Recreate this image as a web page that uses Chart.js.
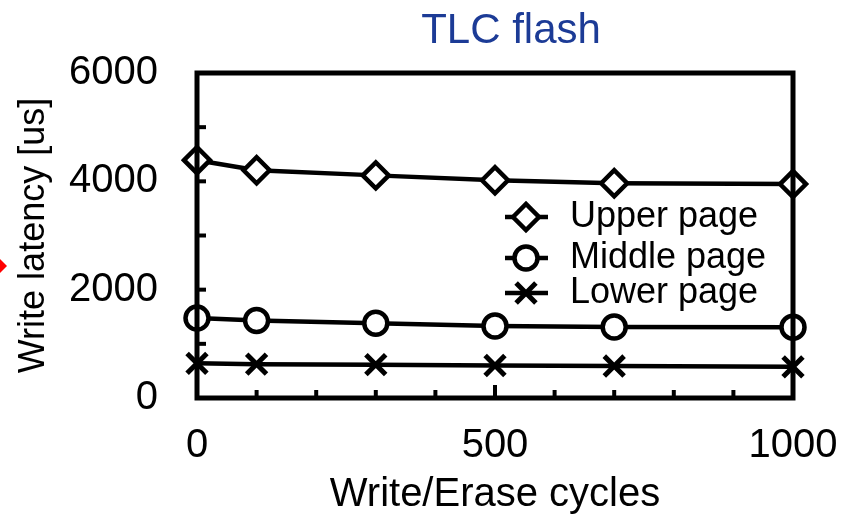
<!DOCTYPE html>
<html>
<head>
<meta charset="utf-8">
<script src="https://cdn.jsdelivr.net/npm/chart.js@4"></script>
<style>
  html, body { margin: 0; padding: 0; background: #fff; }
  #wrap { width: 853px; height: 519px; position: relative; }
</style>
</head>
<body>
<div id="wrap"><canvas id="c" width="853" height="519"></canvas></div>
<script>
const cycles = [0, 100, 300, 500, 700, 1000];
const upperPage = [4390, 4205, 4110, 4020, 3965, 3950];
const middlePage = [1475, 1430, 1380, 1330, 1310, 1305];
const lowerPage = [640, 625, 615, 600, 590, 575];
const seriesNames = ['Upper page', 'Middle page', 'Lower page'];
const yTickLabels = [0, 2000, 4000, 6000];
const xTickLabels = [0, 500, 1000];
const chartTitle = 'TLC flash';

const FONT = "'Liberation Sans', Arial, sans-serif";

function pts(vals) { return cycles.map((c, i) => ({ x: c, y: vals[i] })); }

const frameAndLegend = {
  id: 'frameAndLegend',
  afterDatasetsDraw(chart) {
    const ctx = chart.ctx, a = chart.chartArea;
    const xs = chart.scales.x, ys = chart.scales.y;
    ctx.save();
    // title
    ctx.fillStyle = '#1c3b96';
    ctx.font = '42px ' + FONT;
    ctx.textAlign = 'center';
    ctx.textBaseline = 'middle';
    ctx.fillText(chartTitle, 511, 31);
    // frame
    ctx.strokeStyle = '#000';
    ctx.lineWidth = 5;
    ctx.lineCap = 'square';
    ctx.strokeRect(a.left, a.top, a.right - a.left, a.bottom - a.top);
    ctx.lineWidth = 4;
    ctx.lineCap = 'butt';
    for (let v = 1000; v < 6000; v += 1000) {
      const y = ys.getPixelForValue(v);
      ctx.beginPath(); ctx.moveTo(a.left, y); ctx.lineTo(a.left + 9, y); ctx.stroke();
    }
    for (let v = 100; v < 1000; v += 100) {
      const x = xs.getPixelForValue(v);
      const len = (v === 500) ? 13 : 8;
      ctx.beginPath(); ctx.moveTo(x, a.bottom); ctx.lineTo(x, a.bottom - len); ctx.stroke();
    }
    // legend
    const rows = [217, 258, 293];
    chart.data.datasets.forEach((ds, i) => {
      const y = rows[i];
      ctx.lineWidth = 4.5;
      ctx.strokeStyle = '#000';
      ctx.beginPath(); ctx.moveTo(505, y); ctx.lineTo(548, y); ctx.stroke();
      ctx.fillStyle = '#fff';
      ctx.strokeStyle = '#000';
      ctx.lineWidth = ds.pointBorderWidth;
      Chart.helpers.drawPoint(ctx, { pointStyle: ds.pointStyle, radius: ds.pointRadius, borderWidth: ds.pointBorderWidth, rotation: 0 }, 526, y);
      ctx.fillStyle = '#000';
      ctx.font = '36px ' + FONT;
      ctx.textBaseline = 'middle';
      ctx.textAlign = 'left';
      ctx.fillText(ds.label, 570, y);
    });
    // red marker fragment at the left edge
    ctx.fillStyle = '#ff0000';
    ctx.beginPath();
    ctx.moveTo(-3, 256); ctx.lineTo(7, 266); ctx.lineTo(-3, 276); ctx.closePath();
    ctx.fill();
    ctx.restore();
  }
};

function mk(label, vals, style, r, bw) {
  return {
    label, data: pts(vals),
    borderColor: '#000', borderWidth: 4.5,
    pointStyle: style, pointRadius: r, pointHoverRadius: r,
    pointBackgroundColor: '#fff', pointBorderColor: '#000', pointBorderWidth: bw,
    tension: 0, clip: false
  };
}

const plain = v => String(v);

new Chart(document.getElementById('c'), {
  type: 'line',
  data: {
    datasets: [
      mk(seriesNames[0], upperPage, 'rectRot', 13, 4.5),
      mk(seriesNames[1], middlePage, 'circle', 11.5, 4.5),
      mk(seriesNames[2], lowerPage, 'crossRot', 14, 5)
    ]
  },
  options: {
    responsive: false,
    animation: false,
    layout: { padding: { left: 0, right: 60, top: 73, bottom: 0 } },
    plugins: {
      legend: { display: false },
      tooltip: { enabled: false },
      title: { display: false }
    },
    scales: {
      x: {
        type: 'linear', min: 0, max: 1000,
        afterBuildTicks(s) { s.ticks = xTickLabels.map(v => ({ value: v })); },
        afterFit(s) { s.height = 121; s.paddingRight = 0; s.paddingLeft = 0; },
        grid: { display: false, drawTicks: false },
        border: { display: false },
        ticks: { color: '#000', font: { family: FONT, size: 40 }, padding: 24, maxRotation: 0, callback: plain },
        title: { display: true, text: 'Write/Erase cycles', color: '#000', font: { family: FONT, size: 40 }, padding: { top: 0, bottom: 0 } }
      },
      y: {
        min: 0, max: 6000,
        afterBuildTicks(s) { s.ticks = yTickLabels.map(v => ({ value: v })); },
        afterFit(s) { s.width = 197; s.paddingTop = 0; s.paddingBottom = 0; },
        grid: { display: false, drawTicks: false },
        border: { display: false },
        ticks: { color: '#000', font: { family: FONT, size: 40 }, padding: 39, callback: plain },
        title: { display: true, text: 'Write latency [us]', color: '#000', font: { family: FONT, size: 36 }, padding: { top: 12, bottom: 0 } }
      }
    }
  },
  plugins: [frameAndLegend]
});
</script>
</body>
</html>
